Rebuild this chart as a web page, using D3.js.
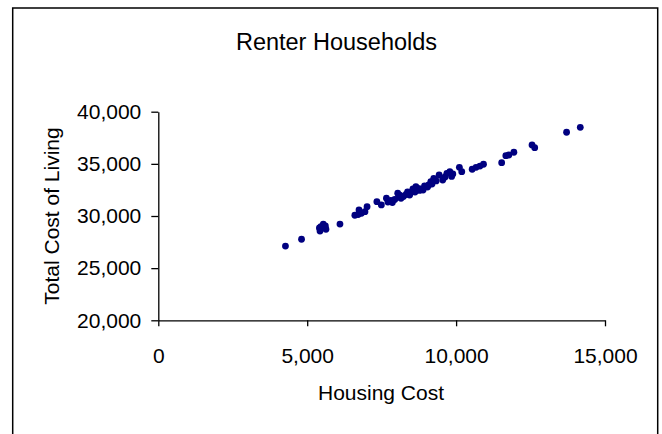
<!DOCTYPE html>
<html>
<head>
<meta charset="utf-8">
<script src="https://cdn.jsdelivr.net/npm/d3@7"></script>
<style>
  html, body { margin: 0; padding: 0; background: #fff; }
  svg { display: block; }
  text { font-family: "Liberation Sans", Arial, sans-serif; fill: #000; }
</style>
</head>
<body>
<svg id="chart" width="662" height="434"></svg>
<script>
// Renter households: housing cost vs total cost of living
const housingCost = [
  4270, 4810, 5430, 5410, 5460, 5540, 5610, 5630, 6100, 6600,
  6710, 6740, 6820, 6940, 7010, 7340, 7490, 7660, 7710, 7810,
  7860, 7940, 8040, 8070, 8150, 8230, 8320, 8370, 8440, 8510,
  8550, 8620, 8650, 8720, 8770, 8820, 8890, 9040, 9080, 9150,
  9190, 9250, 9330, 9430, 9550, 9630, 9690, 9790, 9850, 9890,
  10110, 10190, 10540, 10670, 10800, 10920, 11530, 11670, 11770, 11940,
  12550, 12640, 13710, 14170, 8450, 8940, 8110
];
const totalCost = [
  27120, 27770, 28560, 28850, 28970, 29230, 29040, 28730, 29230, 30070,
  30140, 30580, 30260, 30410, 30890, 31370, 31060, 31700, 31340, 31490,
  31290, 31580, 32180, 31820, 31700, 31870, 32060, 32300, 32010, 32330,
  32590, 32300, 32810, 32640, 32450, 32590, 32490, 32780, 32970, 33290,
  33070, 33610, 33360, 33930, 33450, 33740, 34090, 34250, 33790, 34030,
  34670, 34250, 34480, 34670, 34790, 34960, 35110, 35780, 35850, 36110,
  36810, 36550, 38030, 38500, 32160, 32880, 32010
];
const xTicks = [0, 5000, 10000, 15000];
const yTicks = [20000, 25000, 30000, 35000, 40000];

const svg = d3.select("#chart");

// Outer chart border (bottom edge runs past the visible area)
svg.append("rect")
  .attr("x", 12.7).attr("y", 8)
  .attr("width", 645).attr("height", 500)
  .attr("fill", "none")
  .attr("stroke", "#000")
  .attr("stroke-width", 1.5);

const x = d3.scaleLinear().domain([0, 15000]).range([158.3, 605]);
const y = d3.scaleLinear().domain([20000, 40000]).range([320.3, 111.7]);
const fmt = d3.format(",");

// Axes
const xAxis = svg.append("g")
  .attr("transform", `translate(0,${y(20000)})`)
  .call(d3.axisBottom(x).tickValues(xTicks).tickFormat(fmt)
    .tickSize(6).tickSizeOuter(0).tickPadding(21.5));
const yAxis = svg.append("g")
  .attr("transform", `translate(${x(0)},0)`)
  .call(d3.axisLeft(y).tickValues(yTicks).tickFormat(fmt)
    .tickSize(7).tickSizeOuter(0).tickPadding(10));

[xAxis, yAxis].forEach(g => {
  g.attr("font-family", null).attr("font-size", null);
  g.select(".domain").attr("stroke", "#000").attr("stroke-width", 1.3);
  g.selectAll(".tick line").attr("stroke", "#000").attr("stroke-width", 1.3);
  g.selectAll(".tick text")
    .style("font-family", '"Liberation Sans", Arial, sans-serif')
    .style("font-size", "21px")
    .attr("fill", "#000");
});

// Data points
svg.append("g")
  .selectAll("circle")
  .data(housingCost.map((h, i) => [h, totalCost[i]]))
  .join("circle")
  .attr("cx", d => x(d[0]))
  .attr("cy", d => y(d[1]))
  .attr("r", 3.4)
  .attr("fill", "#000080");

// Titles
svg.append("text")
  .attr("x", 336.5).attr("y", 50)
  .attr("text-anchor", "middle")
  .style("font-size", "23.5px")
  .text("Renter Households");

svg.append("text")
  .attr("x", 381).attr("y", 400)
  .attr("text-anchor", "middle")
  .style("font-size", "21px")
  .text("Housing Cost");

svg.append("text")
  .attr("transform", "translate(59,216) rotate(-90)")
  .attr("text-anchor", "middle")
  .style("font-size", "21px")
  .text("Total Cost of Living");
</script>
</body>
</html>
